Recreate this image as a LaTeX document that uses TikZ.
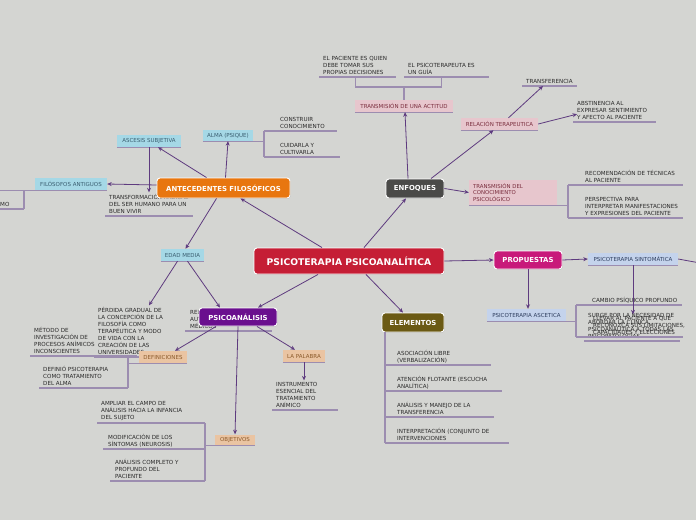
\documentclass[tikz,border=0pt]{standalone}
\usepackage{fontspec}
\setmainfont{DejaVu Sans}
\usetikzlibrary{arrows.meta,shadows}
\definecolor{bg}{HTML}{D4D5D2}
\definecolor{cred}{HTML}{C51E35}
\definecolor{corange}{HTML}{E8760F}
\definecolor{cdark}{HTML}{4A4A48}
\definecolor{cmag}{HTML}{C8197A}
\definecolor{colive}{HTML}{6B5A14}
\definecolor{cpurp}{HTML}{6A0F8E}
\definecolor{lblue}{HTML}{A5D8E6}
\definecolor{lpink}{HTML}{E7C6CD}
\definecolor{lbluev}{HTML}{C4D3EC}
\definecolor{lpeach}{HTML}{EAC4A2}
\definecolor{arrc}{HTML}{5E3B7F}
\definecolor{ulc}{HTML}{9C8DB0}
\definecolor{txtc}{HTML}{2A2A2A}
\definecolor{tblue}{HTML}{3A5E70}
\definecolor{tpink}{HTML}{7A2E3E}
\definecolor{tbv}{HTML}{2E3E5E}
\definecolor{tpeach}{HTML}{8B5A2B}
\tikzset{
  bignode/.style={rectangle, rounded corners=3pt, draw=white, line width=0.9pt,
    text=white, inner sep=0pt, font=\fontsize{6.9}{7}\selectfont\bfseries,
    drop shadow={opacity=0.3, shadow xshift=0.6pt, shadow yshift=-0.8pt}},
  sbox/.style={rectangle, inner sep=0pt, font=\fontsize{5.5}{6}\selectfont,
    append after command={(\tikzlastnode.south west) edge[under] (\tikzlastnode.south east)}},
  ultext/.style={inner xsep=0pt, inner ysep=2pt, align=left, text=txtc,
    font=\fontsize{5.6}{7}\selectfont},
  under/.style={draw=ulc, line width=1.1pt},
  brk/.style={draw=ulc, line width=1.1pt},
  link/.style={draw=arrc, line width=0.8pt, -{Stealth[length=4.5pt,width=4pt]}},
}
% name, x0 of underline, y of underline, length of underline right of text start, indent, text
\newcommand\ulnode[6]{%
  \node[ultext, anchor=south west] (#1) at (#2+#5,#3) {#6};
  \coordinate (#1-ul) at ([xshift=-#5pt]#1.south west);
  \coordinate (#1-ur) at ([xshift=#4pt]#1.south west);
  \draw[under] (#1-ul) -- (#1-ur);}
\begin{document}
\begin{tikzpicture}[x=1pt,y=-1pt]
\useasboundingbox[fill=bg] (0,0) rectangle (696,520);

% free texts with underlines
\ulnode{transf}{105}{216}{84}{4}{TRANSFORMACIÓN RADICAL\\DEL SER HUMANO PARA UN\\BUEN VIVIR}
\ulnode{constr}{264}{131}{57}{16}{CONSTRUIR\\CONOCIMIENTO}
\ulnode{cuid}{264}{157}{60}{16}{CUIDARLA Y\\CULTIVARLA}
\ulnode{pac}{319}{77}{73}{4}{EL PACIENTE ES QUIEN\\DEBE TOMAR SUS\\PROPIAS DECISIONES}
\ulnode{guia}{404}{77}{81}{4}{EL PSICOTERAPEUTA ES\\UN GUÍA}
\ulnode{transfer}{522}{86}{51}{4}{TRANSFERENCIA}
\ulnode{abst}{573}{122}{79}{4}{ABSTINENCIA AL\\EXPRESAR SENTIMIENTO\\Y AFECTO AL PACIENTE}
\ulnode{recom}{568}{185}{98}{17}{RECOMENDACIÓN DE TÉCNICAS\\AL PACIENTE}
\ulnode{persp}{568}{218}{98}{17}{PERSPECTIVA PARA\\INTERPRETAR MANIFESTACIONES\\Y EXPRESIONES DEL PACIENTE}
\ulnode{cambio}{576}{305}{90}{16}{CAMBIO PSÍQUICO PROFUNDO}
\ulnode{surge}{584}{341}{92}{4}{SURGE POR LA NECESIDAD DE\\ABORDAR LA CLÍNICA\\PSICOANALÍTICA A TODAS LAS\\PSICOPATOLOGÍAS}
\ulnode{llevar}{576}{337}{90}{17}{LLEVAR AL PACIENTE A QUE\\RECONOZCA SUS LIMITACIONES,\\CAPACIDADES Y ELECCIONES}
\ulnode{asoc}{385}{365}{94}{12}{ASOCIACIÓN LIBRE\\(VERBALIZACIÓN)}
\ulnode{atenc}{385}{391}{105}{12}{ATENCIÓN FLOTANTE (ESCUCHA\\ANALÍTICA)}
\ulnode{anal}{385}{417}{97}{12}{ANÁLISIS Y MANEJO DE LA\\TRANSFERENCIA}
\ulnode{interp}{385}{443}{112}{12}{INTERPRETACIÓN (CONJUNTO DE\\INTERVENCIONES}
\ulnode{perd}{94}{357}{84}{4}{PÉRDIDA GRADUAL DE\\LA CONCEPCIÓN DE LA\\FILOSOFÍA COMO\\TERAPÉUTICA Y MODO\\DE VIDA CON LA\\CREACIÓN DE LAS\\UNIVERSIDADES}
\ulnode{metodo}{30}{356}{103}{4}{MÉTODO DE\\INVESTIGACIÓN DE\\PROCESOS ANÍMICOS\\INCONSCIENTES}
\ulnode{definio}{39}{388}{85}{4}{DEFINIÓ PSICOTERAPIA\\COMO TRATAMIENTO\\DEL ALMA}
\ulnode{realiz}{185}{331}{82}{5}{RELACIÓN CON\\AUTORES\\MÉDICOS}
\ulnode{instr}{272}{410}{62}{4}{INSTRUMENTO\\ESENCIAL DEL\\TRATAMIENTO\\ANÍMICO}
\ulnode{ampliar}{97}{423}{104}{4}{AMPLIAR EL CAMPO DE\\ANÁLISIS HACIA LA INFANCIA\\DEL SUJETO}
\ulnode{modif}{103}{449}{97}{5}{MODIFICACIÓN DE LOS\\SÍNTOMAS (NEUROSIS)}
\ulnode{complet}{110}{481}{90}{5}{ANÁLISIS COMPLETO Y\\PROFUNDO DEL\\PACIENTE}
\ulnode{mo}{-20}{209}{24}{20}{MO}

% small boxes
\node[sbox, fill=lblue, text=tblue, minimum width=64pt, minimum height=12pt] (asc) at (149,141) {ASCESIS SUBJETIVA};
\node[sbox, fill=lblue, text=tblue, minimum width=50pt, minimum height=11pt] (alma) at (228,135.5) {ALMA (PSIQUE)};
\node[sbox, fill=lblue, text=tblue, minimum width=72pt, minimum height=12pt] (filo) at (71,184) {FILÓSOFOS ANTIGUOS};
\node[sbox, fill=lblue, text=tblue, minimum width=43pt, minimum height=12pt] (edad) at (182.5,255) {EDAD MEDIA};
\node[sbox, fill=lpink, text=tpink, minimum width=98pt, minimum height=12pt] (act) at (404,106) {TRANSMISIÓN DE UNA ACTITUD};
\node[sbox, fill=lpink, text=tpink, minimum width=77pt, minimum height=12pt] (rel) at (499.5,124) {RELACIÓN TERAPEUTICA};
\node[sbox, fill=lpink, text=tpink, minimum width=88pt, minimum height=25pt, text width=80pt, align=left, font=\fontsize{5.4}{6.6}\selectfont] (tdc) at (513,192.5) {TRANSMISIÓN DEL\\CONOCIMIENTO\\PSICOLÓGICO};
\node[sbox, fill=lbluev, text=tbv, minimum width=90pt, minimum height=12pt] (sint) at (633,259) {PSICOTERAPIA SINTOMÁTICA};
\node[sbox, fill=lbluev, text=tbv, minimum width=79pt, minimum height=12pt] (ascet) at (526.5,315) {PSICOTERAPIA ASCETICA};
\node[sbox, fill=lpeach, text=tpeach, minimum width=48pt, minimum height=12pt] (defs) at (163,357) {DEFINICIONES};
\node[sbox, fill=lpeach, text=tpeach, minimum width=42pt, minimum height=12pt] (pal) at (304,356) {LA PALABRA};
\node[sbox, fill=lpeach, text=tpeach, minimum width=40pt, minimum height=11pt] (obj) at (235,440) {OBJETIVOS};

% main boxes
\node[bignode, fill=cred, minimum width=190pt, minimum height=26pt, font=\fontsize{9.2}{10}\selectfont\bfseries] (cen) at (349,261) {PSICOTERAPIA PSICOANALÍTICA};
\node[bignode, fill=corange, minimum width=133pt, minimum height=20pt] (ante) at (223.5,188) {ANTECEDENTES FILOSÓFICOS};
\node[bignode, fill=cdark, minimum width=58pt, minimum height=19pt] (enf) at (415,188.5) {ENFOQUES};
\node[bignode, fill=cmag, minimum width=68pt, minimum height=18pt] (prop) at (528,260) {PROPUESTAS};
\node[bignode, fill=colive, minimum width=62pt, minimum height=19pt] (elem) at (413,322.5) {ELEMENTOS};
\node[bignode, fill=cpurp, minimum width=78pt, minimum height=18pt] (psa) at (238,317) {PSICOANÁLISIS};

% brackets
\draw[brk] (alma.south east) -- (alma.south east -| constr-ul);
\draw[brk] (constr-ul) -- (cuid-ul);
\draw[brk] (pac.south) -- ++(0,10) -| (guia.south);
\draw[brk] (act.north) -- ++(0,-13);
\draw[brk] (tdc.south east) -- (tdc.south east -| recom-ul);
\draw[brk] (recom-ul) -- (persp-ul);
\draw[brk] (ascet.south east) -- (ascet.south east -| cambio-ul);
\draw[brk] (cambio-ul) -- (llevar-ul);
\draw[brk] (elem.south -| asoc-ul) -- (interp-ul);
\draw[brk] (defs.south west) -- (defs.south west -| definio-ur);
\draw[brk] (definio-ur) -- (definio-ur |- metodo-ul);
\draw[brk] (obj.south west) -- (obj.south west -| ampliar-ur);
\draw[brk] (ampliar-ur) -- (complet-ur);
\draw[brk] (filo.south west) -- (filo.south west -| mo-ul);
\draw[brk] (mo-ur) -- (mo-ur |- filo.south);
\coordinate (offr) at (700,263);
\draw[draw=arrc, line width=0.8pt] (sint.east) -- (offr);

% arrows
\draw[link] ([xshift=-27pt]cen.north) -- ([xshift=17pt]ante.south);
\draw[link] ([xshift=15pt]cen.north) -- ([xshift=-9pt]enf.south);
\draw[link] (cen.east) -- (prop.west);
\draw[link] ([xshift=17pt]cen.south) -- ([xshift=-10pt]elem.north);
\draw[link] ([xshift=-31pt]cen.south) -- ([xshift=20pt]psa.north);
\draw[link] ([xshift=-17pt]ante.north) -- ([xshift=9pt]asc.south);
\draw[link] ([xshift=2pt]ante.north) -- (alma.south);
\draw[link] ([yshift=3pt]ante.west) -- (filo.east);
\draw[link] (asc.south) -- (asc.south |- transf.north);
\draw[link] ([xshift=-7pt]ante.south) -- ([xshift=3pt]edad.north);
\draw[link] ([xshift=-5pt]edad.south) -- ([xshift=51pt]perd.north west);
\draw[link] ([xshift=5pt]edad.south) -- ([xshift=-18pt]psa.north);
\draw[link] ([xshift=-7pt]enf.north) -- ([xshift=1pt]act.south);
\draw[link] ([xshift=16pt]enf.north) -- ([xshift=-6pt]rel.south);
\draw[link] (enf.east) -- (tdc.west);
\draw[link] ([xshift=9pt]rel.north) -- ([xshift=17pt]transfer.south west);
\draw[link] (rel.east) -- ([yshift=-3.5pt]abst.west);
\draw[link] (prop.east) -- (sint.west);
\draw[link] (prop.south) -- (prop.south |- ascet.north);
\draw[link] (sint.south) -- (sint.south |- llevar.north);
\draw[link] ([xshift=-22pt]psa.south) -- ([xshift=12pt]defs.north);
\draw[link] ([xshift=19pt]psa.south) -- ([xshift=-9pt]pal.north);
\draw[link] (psa.south) -- (obj.north);
\draw[link] (pal.south) -- (pal.south |- instr.north);
\end{tikzpicture}
\end{document}
